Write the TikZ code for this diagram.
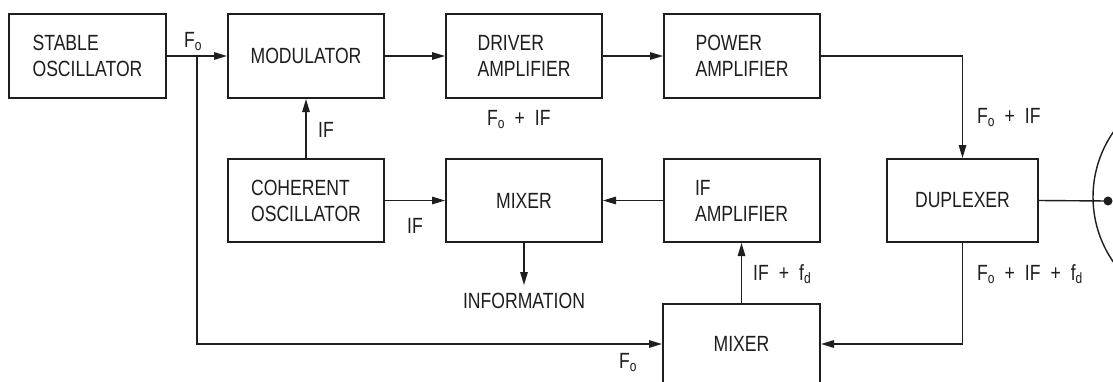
\documentclass[tikz,border=0pt]{standalone}
\usepackage{fontspec}
\setmainfont{Liberation Sans}[FakeStretch=0.8]
\usetikzlibrary{arrows.meta}
\newcommand{\lsub}[1]{\raisebox{-3.5pt}{\fontsize{15}{15}\selectfont #1}}
\newcommand{\pl}{\hspace{10pt}+\hspace{10pt}}
\definecolor{ink}{HTML}{1E1E1E}
\begin{document}
\begin{tikzpicture}[x=1pt,y=-1pt,
  font=\fontsize{22}{26}\selectfont,
  blk/.style={draw=ink, line width=2pt, minimum width=156pt, minimum height=84pt,
              align=left, inner sep=0pt, text=ink},
  conn/.style={draw=ink, line width=1.4pt, -{Triangle[length=13pt,width=7.5pt]}},
  wire/.style={draw=ink, line width=1.4pt},
  lbl/.style={inner sep=0pt, anchor=base west, text=ink}]
\clip (0,0) rectangle (1113,381);
\fill[white] (0,0) rectangle (1113,381);
% blocks
\node[blk, minimum width=157pt] (stable) at (87.5,56) {STABLE\\OSCILLATOR};
\node[blk] (mod) at (306,56) {MODULATOR};
\node[blk] (drv) at (524,56) {DRIVER\\AMPLIFIER};
\node[blk] (pwr) at (742,56) {POWER\\AMPLIFIER};
\node[blk, minimum height=83pt] (coh) at (306,200.5) {COHERENT\\OSCILLATOR};
\node[blk, minimum height=83pt] (mixa) at (524,200.5) {MIXER};
\node[blk, minimum height=83pt] (ifa) at (741.5,200.5) {IF\\AMPLIFIER};
\node[blk, minimum height=83pt, minimum width=151pt] (dup) at (962.5,200.5) {DUPLEXER};
\node[blk, minimum height=80pt, minimum width=157pt] (mixb) at (741.5,344) {MIXER};
\node[inner sep=5pt, text=ink] (info) at (524,301) {INFORMATION};
% connectors
\coordinate (br) at (197,56);
\draw[conn] (stable.east) -- (mod.west);
\draw[conn] (br) |- (mixb.west);
\draw[conn] (coh.north) -- (mod.south);
\draw[conn] (mod.east) -- (drv.west);
\draw[conn] (drv.east) -- (pwr.west);
\draw[conn] (pwr.east) -| (dup.north);
\draw[conn] (dup.south) |- (mixb.east);
\draw[conn] (mixb.north) -- (ifa.south);
\draw[conn] (ifa.west) -- (mixa.east);
\draw[conn] (coh.east) -- (mixa.west);
\draw[conn, shorten >=3pt] (mixa.south) -- (info.north);
% antenna
\coordinate (feed) at (1108,201);
\draw[wire] (dup.east) -- (feed);
\fill[ink] (feed) circle (4.5);
\draw[wire] (1207,197) circle (114);
% labels
\node[lbl] (l1) at (184,47) {F\lsub{o}};
\node[lbl] (l2) at (318,137) {IF};
\node[lbl] (l3) at (487,125) {F\lsub{o}\pl IF};
\node[lbl] (l4) at (977,123) {F\lsub{o}\pl IF};
\node[lbl] (l5) at (407,233) {IF};
\node[lbl] (l6) at (753,280) {IF\pl f\lsub{d}};
\node[lbl] (l7) at (977,280) {F\lsub{o}\pl IF\pl f\lsub{d}};
\node[lbl] (l8) at (619,368) {F\lsub{o}};
\end{tikzpicture}
\end{document}
